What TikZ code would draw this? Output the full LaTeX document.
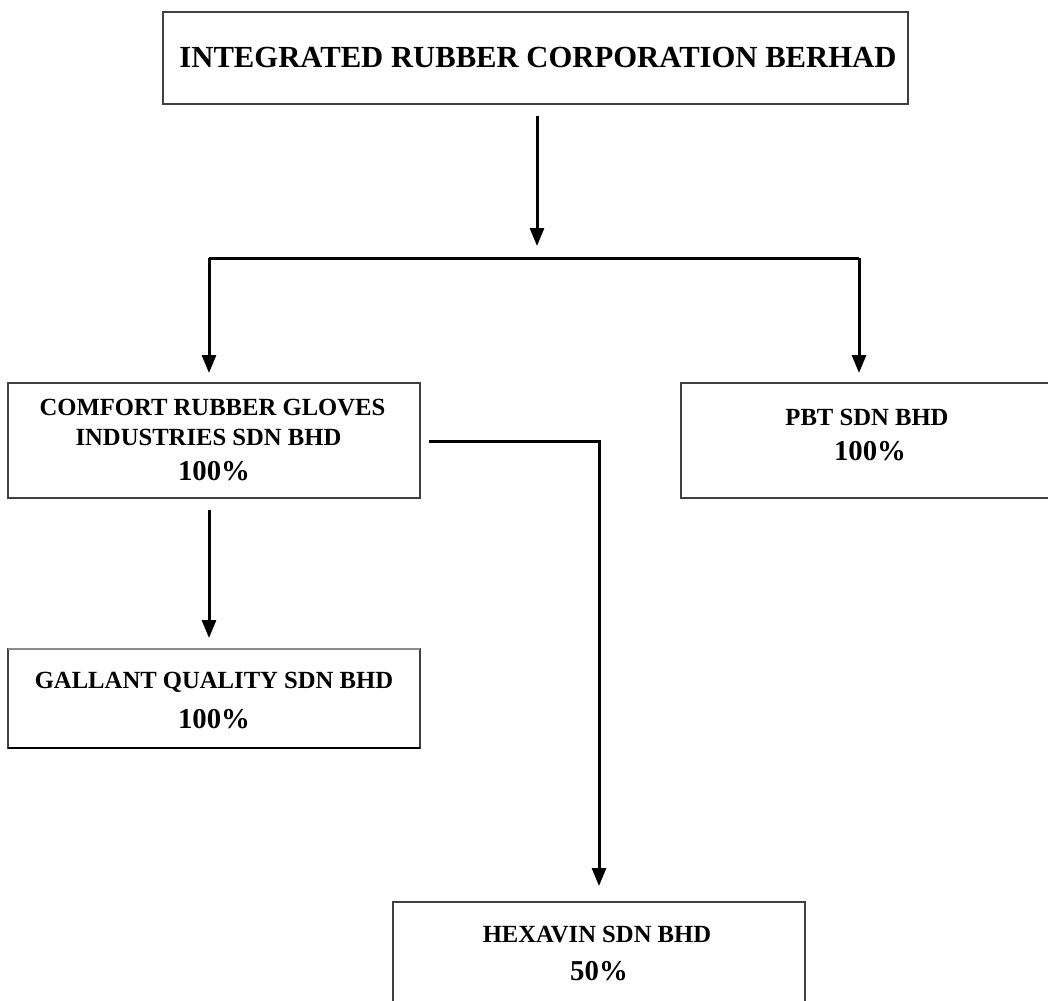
\documentclass[tikz,border=0pt]{standalone}
\usepackage{fontspec}
\setmainfont{Liberation Serif}
\usetikzlibrary{arrows.meta}
\tikzset{
  orgbox/.style={draw=black!75, line width=1pt, rectangle, inner sep=0pt, outer sep=0pt, fill=none},
  txthead/.style={anchor=base, inner sep=0pt, font=\fontsize{23}{27}\selectfont\bfseries},
  txtco/.style={anchor=base, inner sep=0pt, font=\fontsize{18.5}{22}\selectfont\bfseries},
  txtpct/.style={anchor=base, inner sep=0pt, font=\fontsize{21.6}{26}\selectfont\bfseries},
  conn/.style={line width=2.25pt, black},
  arr/.style={conn, -{Triangle[width=10.5pt,length=13.5pt]}},
}
\begin{document}
\begin{tikzpicture}[x=0.75pt,y=-0.75pt]
\useasboundingbox (0,0) rectangle (1048,1000);
\fill[white] (0,0) rectangle (1048,1000);
% boxes
\node[orgbox, minimum width=558.75pt, minimum height=69pt] (top) at (535.5,58) {};
\node[orgbox, minimum width=309pt, minimum height=86.25pt] (comfort) at (214,440.5) {};
\node[orgbox, minimum width=282pt, minimum height=86.25pt] (pbt) at (869,440.5) {};
\node[orgbox, minimum width=309pt, minimum height=74.25pt] (gallant) at (214,698.5) {};
\node[orgbox, minimum width=309pt, minimum height=77.25pt] (hexavin) at (599,953.5) {};
% gallant border shading imitation
\draw[black, line width=1.6pt] (gallant.south west) -- (gallant.south east);
\draw[black!45, line width=1pt] (gallant.north west) -- (gallant.north east);
% texts
\node[txthead] (ttop) at (538,67) {INTEGRATED RUBBER CORPORATION BERHAD};
\node[txtco] (tcomf1) at (212.5,415) {COMFORT RUBBER GLOVES};
\node[txtco] (tcomf2) at (208.5,445) {INDUSTRIES SDN BHD};
\node[txtpct] (tcomf3) at (214,480) {100\%};
\node[txtco] (tpbt1) at (867,425) {PBT SDN BHD};
\node[txtpct] (tpbt2) at (870,460) {100\%};
\node[txtco] (tgal1) at (214,688) {GALLANT QUALITY SDN BHD};
\node[txtpct] (tgal2) at (214,728) {100\%};
\node[txtco] (thex1) at (597,942) {HEXAVIN SDN BHD};
\node[txtpct] (thex2) at (599,980) {50\%};
% connectors
\coordinate (split) at (537,258);
\coordinate (bl) at (209,258);
\coordinate (br) at (859,258);
\draw[arr] ([yshift=-9pt]top.south -| split) -- ([yshift=9pt]split);
\draw[conn] (bl) -- (br);
\draw[arr] (bl) -- ([yshift=7.5pt]comfort.north -| bl);
\draw[arr] (br) -- ([yshift=7.5pt]pbt.north -| br);
\draw[arr] ([yshift=-9pt]comfort.south -| bl) -- ([yshift=8.25pt]gallant.north -| bl);
\draw[arr] ([xshift=6.75pt,yshift=-1.1pt]comfort.east) -| ([yshift=12pt]hexavin.north);
\end{tikzpicture}
\end{document}
